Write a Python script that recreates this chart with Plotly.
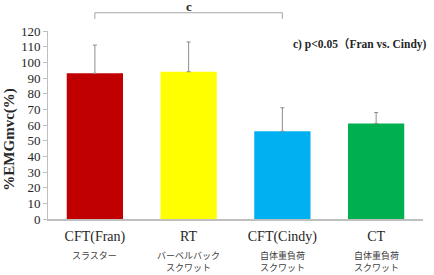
import plotly.graph_objects as go

categories = ["CFT(Fran)", "RT", "CFT(Cindy)", "CT"]
sub_line1 = ["スラスター", "バーベルバック", "自体重負荷", "自体重負荷"]
sub_line2 = ["", "スクワット", "スクワット", "スクワット"]
values = [93, 94, 56, 61]
errors = [18, 19, 15, 7]
colors = ["#C00000", "#FFFF00", "#00B0F0", "#00B050"]
y_ticks = list(range(0, 121, 10))

SERIF = "Liberation Serif, Times New Roman, Noto Sans CJK JP, serif"
CJK = "Noto Sans CJK JP"

fig = go.Figure(go.Bar(
    x=categories, y=values,
    marker=dict(color=colors, line=dict(width=0)),
    error_y=dict(type="data", array=errors, arrayminus=[0] * len(errors), symmetric=False,
                 color="#8C8C8C", thickness=1, width=2),
    width=0.6,
))

fig.update_layout(
    width=434, height=275,
    margin=dict(l=48, r=11, t=31, b=56),
    paper_bgcolor="white", plot_bgcolor="white",
    showlegend=False,
    font=dict(family=SERIF, color="#262626"),
    xaxis=dict(type="category", range=[-0.5, 3.5], showline=True, linecolor="#BFBFBF", linewidth=1.5,
               ticks="", ticklabelstandoff=3,
               tickfont=dict(size=14, family=SERIF, color="#262626"), showgrid=False),
    yaxis=dict(range=[0, 120], tickvals=y_ticks, showline=True, linecolor="#BFBFBF", linewidth=1,
               ticks="outside", ticklen=4, tickcolor="#BFBFBF", showgrid=False, zeroline=False,
               tickfont=dict(size=13, family=SERIF, color="#262626")),
)

# Y axis title
fig.add_annotation(text="<b>%EMGmvc(%)</b>", xref="paper", yref="paper", x=-0.105, y=0.42,
                   textangle=-90, showarrow=False, font=dict(size=15, family=SERIF, color="#262626"),
                   xanchor="center", yanchor="middle")

# Japanese sub labels
for i, cat in enumerate(categories):
    txt = sub_line1[i] + ("<br>" + sub_line2[i] if sub_line2[i] else "")
    fig.add_annotation(text=txt, x=cat, xref="x", yref="paper", y=-0.15, yanchor="top",
                       showarrow=False, font=dict(size=9, family=CJK, color="#404040"))

# significance bracket
fig.add_shape(type="path", xref="x", yref="paper",
              path="M 0,1.064 L 0,1.097 L 2,1.097 L 2,1.064",
              line=dict(color="#A6A6A6", width=1))
fig.add_annotation(text="<b>c</b>", x=1, xref="x", yref="paper", y=1.128, showarrow=False,
                   font=dict(size=13, family=SERIF, color="#262626"), yanchor="middle")
fig.add_annotation(text="<b>c) p&lt;0.05（Fran vs. Cindy)</b>", xref="paper", yref="paper",
                   x=(291 - 48) / 375, y=(219 - 44) / 188, xanchor="left", yanchor="middle",
                   showarrow=False, font=dict(size=11.5, family=SERIF, color="#262626"))

fig.write_html("out.html")
